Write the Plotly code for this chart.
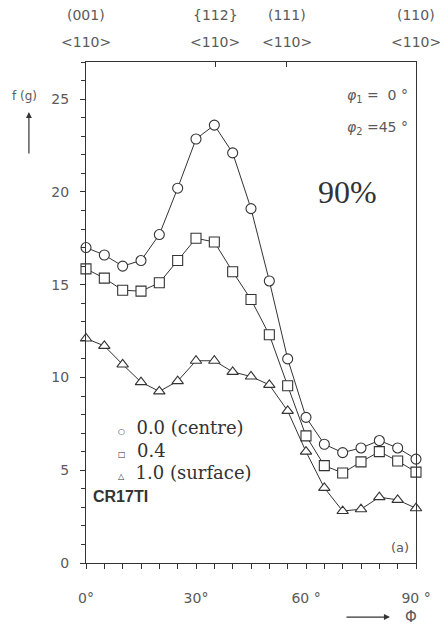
import plotly.graph_objects as go

phi = [0, 5, 10, 15, 20, 25, 30, 35, 40, 45, 50, 55, 60, 65, 70, 75, 80, 85, 90]
centre = [17.0, 16.6, 16.0, 16.3, 17.7, 20.2, 22.85, 23.6, 22.1, 19.1, 15.2, 11.0, 7.85, 6.4, 5.95, 6.2, 6.6, 6.2, 5.6]
mid = [15.85, 15.35, 14.7, 14.65, 15.1, 16.3, 17.5, 17.3, 15.7, 14.2, 12.3, 9.55, 6.85, 5.25, 4.85, 5.45, 6.0, 5.5, 4.9]
surface = [12.1, 11.7, 10.7, 9.75, 9.25, 9.8, 10.9, 10.9, 10.3, 10.05, 9.6, 8.2, 6.0, 4.05, 2.8, 2.9, 3.55, 3.4, 2.95]

series_names = ["0.0 (centre)", "0.4", "1.0 (surface)"]
symbols = ["circle", "square", "triangle-up"]
legend_glyphs = ["○", "□", "△"]

x_tickvals = [0, 30, 60, 90]
x_ticktext = ["0°", "30°", "60 °", "90 °"]
y_tickvals = [0, 5, 10, 15, 20, 25]

top_angles = [0, 35.26, 54.74, 90]
top_planes = ["(001)", "{112}", "(111)", "(110)"]
top_dirs = ["&lt;110&gt;", "&lt;110&gt;", "&lt;110&gt;", "&lt;110&gt;"]

INK = "#333333"
GREY = "#5a5a5a"
PLOT = "DejaVu Sans"

fig = go.Figure()

for name, ys, sym in zip(series_names, [centre, mid, surface], symbols):
    fig.add_trace(go.Scatter(
        x=phi, y=ys, mode="lines+markers", name=name, showlegend=False, cliponaxis=False,
        line=dict(color=INK, width=1),
        marker=dict(symbol=sym, size=10, color="white", line=dict(color=INK, width=1.1)),
    ))

# top axis with tick marks at special orientations
fig.add_trace(go.Scatter(x=[None], y=[None], xaxis="x2", showlegend=False))

fig.update_layout(
    width=447, height=631,
    margin=dict(l=86, r=31, t=62, b=68),
    paper_bgcolor="white", plot_bgcolor="white",
    font=dict(family=PLOT, size=14, color=GREY),
    showlegend=False,
    xaxis=dict(
        range=[0, 90], tickvals=x_tickvals, ticktext=x_ticktext,
        ticks="outside", ticklen=5, tickcolor=INK, showgrid=False, zeroline=False,
        showline=True, linecolor=INK, linewidth=1.2, mirror=True,
        ticklabelstandoff=17, tickfont=dict(family=PLOT, size=14, color=GREY),
        minor=dict(dtick=5, ticks="outside", ticklen=5, tickcolor=INK),
    ),
    xaxis2=dict(
        overlaying="x", side="top", range=[0, 90], tickvals=top_angles,
        showticklabels=False, ticks="inside", ticklen=5, tickcolor=INK,
        showgrid=False, zeroline=False, showline=False,
    ),
    yaxis=dict(
        range=[0, 27], tickvals=y_tickvals, ticks="outside", ticklen=5, tickcolor=INK,
        showgrid=False, zeroline=False, showline=True, linecolor=INK, linewidth=1.2,
        mirror=True, ticklabelstandoff=8, tickfont=dict(family=PLOT, size=14, color=GREY),
        minor=dict(dtick=1, ticks="outside", ticklen=4, tickcolor=INK),
    ),
)

def note(x, y, text, size, color=GREY, family=PLOT, xa="center", ya="middle", xref="paper"):
    return dict(x=x, y=y, xref=xref, yref="paper", text=text, showarrow=False,
                xanchor=xa, yanchor=ya, font=dict(family=family, size=size, color=color))

ann = []
for a, p, d in zip(top_angles, top_planes, top_dirs):
    ann.append(note(a, 1.094, p, 14, xref="x"))
    ann.append(note(a, 1.040, d, 14, xref="x"))

# legend block (text lines stacked at a fixed spacing)
for i, (g, n) in enumerate(zip(legend_glyphs, series_names)):
    ann.append(note(0.09, 0.270 - i * 0.045,
                    f"<span style='font-size:8px'>{g}</span>  {n}", 18,
                    color=INK, family="DejaVu Serif", xa="left"))

ann += [
    note(-0.142, 0.932, "f (g)", 12, xa="right"),
    dict(x=-0.173, y=0.90, xref="paper", yref="paper", text="", showarrow=True,
         ax=0, ay=43, arrowhead=2, arrowsize=1, arrowwidth=1.2, arrowcolor=INK),
    dict(x=0.921, y=-0.108, xref="paper", yref="paper", text="", showarrow=True,
         ax=-45, ay=0, arrowhead=2, arrowsize=1, arrowwidth=1.2, arrowcolor=INK),
    note(0.985, -0.108, "Φ", 15),
    note(0.982, 0.932, "<i>φ</i><sub>1</sub> =  0 °", 14, xa="right"),
    note(0.982, 0.868, "<i>φ</i><sub>2</sub> =45 °", 14, xa="right"),
    note(0.791, 0.741, "90%", 32, color=INK, family="Liberation Serif"),
    note(0.985, 0.03, "(a)", 13, xa="right"),
    note(0.015, 0.132, "<b>CR17TI</b>", 16, color=INK, family="Liberation Sans", xa="left"),
]
fig.update_layout(annotations=ann)

fig.write_html("out.html", config={"displayModeBar": False},
               post_script="document.body.style.margin='0';")
